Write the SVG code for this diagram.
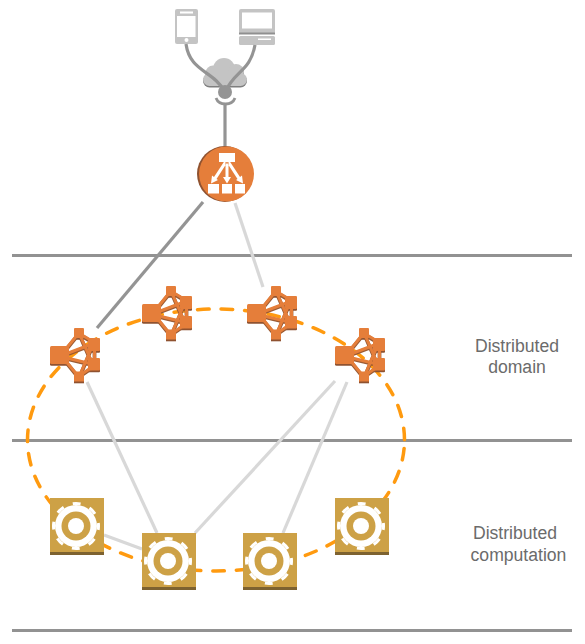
<svg xmlns="http://www.w3.org/2000/svg" width="585" height="644" viewBox="0 0 585 644">
<style>
.band{stroke:#929292;stroke-width:3;fill:none}
.dark{stroke:#949494;stroke-width:3.2;fill:none}
.light{stroke:#d8d8d8;stroke-width:3.2;fill:none}
.ring{stroke:#ff9a0f;stroke-width:3.5;fill:none;stroke-linecap:round;stroke-dasharray:11.6 12;stroke-dashoffset:-8.5}
.label{font-family:"Liberation Sans",Arial,sans-serif;font-size:17.6px;fill:#6b6b6b;text-anchor:middle}
.dev{fill:#c4c4c4}
.o{fill:#e57e3a}
.b{fill:#8f5230}
</style>
<defs>
<g id="shapes">
<rect x="0" y="18" width="19" height="18" rx="1.500"/><rect x="24" y="0" width="10" height="10" rx="1"/><rect x="38" y="10" width="12" height="13" rx="1"/><rect x="38" y="30" width="12" height="12.500" rx="1"/><rect x="24" y="43.500" width="10" height="10"/>
</g>
<path id="links" d="M15 22 28 6M15 32 28 48M17 25.500 42 16M17 30 42 36M30 7 43 37M30 47 43 16M32 7 42 13M32 46 42 39M44.500 22V31"/>
<g id="router">
<use href="#shapes" class="b" y="1.800"/>
<use href="#links" fill="none" stroke="#9a5a33" stroke-width="3.800" y="1"/>
<use href="#links" fill="none" stroke="#e57e3a" stroke-width="3"/>
<use href="#shapes" class="o"/>
</g>
<g id="gearbox">
<rect x="0" y="0" width="54" height="54" fill="#cda146"/>
<rect x="0" y="54" width="54" height="3" fill="#7d6230"/>
<g transform="translate(26,28)">
<circle r="21" fill="#fff"/>
<circle r="22.500" fill="none" stroke="#fff" stroke-width="3" stroke-dasharray="8 9.670" stroke-dashoffset="4"/>
<circle r="14.500" fill="#cda146"/>
<circle r="8" fill="#fff"/>
</g>
</g>
<g id="cloudshape">
<circle cx="213" cy="73" r="7.500"/><circle cx="224" cy="69" r="11"/><circle cx="236" cy="72" r="8"/><rect x="203" y="73" width="44" height="13" rx="6.500"/>
</g>
</defs>
<g id="bands">
<line class="band" x1="12" y1="255.500" x2="572" y2="255.500"/>
<line class="band" x1="12" y1="440.500" x2="572" y2="440.500"/>
<line class="band" x1="12" y1="630.500" x2="572" y2="630.500"/>
</g>
<g id="connectors">
<ellipse class="ring" cx="216" cy="440" rx="188.500" ry="131"/>
<line class="dark" x1="225" y1="104" x2="225" y2="148"/>
<line class="dark" x1="203" y1="202" x2="97" y2="328"/>
<line class="light" x1="235" y1="203" x2="263" y2="287"/>
<line class="light" x1="87" y1="382" x2="157" y2="533"/>
<line class="light" x1="335" y1="381" x2="195" y2="533"/>
<line class="light" x1="347" y1="382" x2="283" y2="533"/>
<line class="light" x1="104" y1="535" x2="142" y2="549"/>
</g>
<g id="phone">
<rect class="dev" x="175" y="9" width="23" height="35" rx="2"/>
<rect x="177" y="16" width="18.500" height="21" fill="#fff"/>
<rect x="180" y="11.500" width="13" height="2" fill="#fff"/>
<circle cx="186.500" cy="40" r="2" fill="#fff"/>
</g>
<g id="laptop">
<rect class="dev" x="239" y="9" width="36" height="25" rx="2"/>
<rect x="242" y="12.500" width="30" height="16" fill="#fff"/>
<rect x="239" y="32.500" width="36" height="2" fill="#8f8f8f"/>
<rect class="dev" x="239" y="36" width="36" height="9" rx="1.500"/>
<rect x="258" y="38.500" width="13" height="1.500" fill="#fff"/>
</g>
<g id="cloud">
<use href="#cloudshape" fill="#7f7f7f" y="1.500"/>
<use href="#cloudshape" fill="#c4c4c4"/>
<path class="dark" d="M186 44C190 72 213 70 225 92M255 45C250 72 235 70 225 92"/>
<circle cx="225" cy="92" r="7" fill="#949494"/>
<path d="M216 98C219 106 232 106 235 98" fill="none" stroke="#949494" stroke-width="2.800"/>
</g>
<g id="balancer">
<circle cx="225" cy="174" r="28" fill="#8f5230"/>
<circle cx="226.500" cy="174" r="27.500" class="o"/>
<g fill="#fff">
<rect x="219" y="153" width="16" height="9"/>
<rect x="208" y="184" width="11" height="9.500"/>
<rect x="222" y="184" width="10" height="9.500"/>
<rect x="235" y="184" width="10" height="9.500"/>
<path d="M224.500 161 214 177 212 175.500 211 183.500 218 180 216.500 179 227.500 162ZM225.500 162H228.500V177H231L227 183.500 223 177H225.500ZM226.500 162 237.500 179 236 180 243 183.500 242 175.500 240 177 229.500 161Z"/>
</g>
</g>
<g id="router-1"><use href="#router" x="50" y="328"/></g>
<g id="router-2"><use href="#router" x="142" y="286"/></g>
<g id="router-3"><use href="#router" x="247" y="286"/></g>
<g id="router-4"><use href="#router" x="335" y="328"/></g>
<g id="worker-1"><use href="#gearbox" x="50" y="498"/></g>
<g id="worker-2"><use href="#gearbox" x="142" y="533"/></g>
<g id="worker-3"><use href="#gearbox" x="243" y="533"/></g>
<g id="worker-4"><use href="#gearbox" x="335" y="498"/></g>
<g id="labels">
<text class="label" x="517" y="352">Distributed</text>
<text class="label" x="517" y="373">domain</text>
<text class="label" x="515" y="539">Distributed</text>
<text class="label" x="518.500" y="561">computation</text>
</g>
</svg>
